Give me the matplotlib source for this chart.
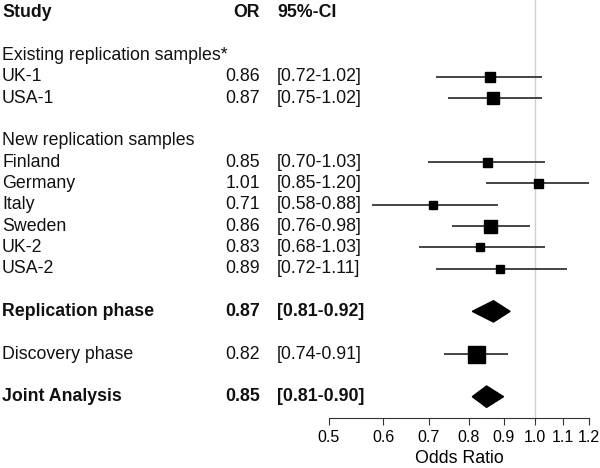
import numpy as np
import matplotlib.pyplot as plt
import matplotlib.transforms as mtransforms

plt.rcParams['font.family'] = ['Liberation Sans', 'DejaVu Sans']

# study-level data
studies = ["UK-1", "USA-1", "Finland", "Germany", "Italy", "Sweden", "UK-2", "USA-2"]
odds = [0.86, 0.87, 0.85, 1.01, 0.71, 0.86, 0.83, 0.89]
ci_lo = [0.72, 0.75, 0.70, 0.85, 0.58, 0.76, 0.68, 0.72]
ci_hi = [1.02, 1.02, 1.03, 1.20, 0.88, 0.98, 1.03, 1.11]
weights = [10, 12, 9, 9, 8, 13, 8, 8]

# pooled results
pooled = ["Replication phase", "Discovery phase", "Joint Analysis"]
pooled_or = [0.87, 0.82, 0.85]
pooled_lo = [0.81, 0.74, 0.81]
pooled_hi = [0.92, 0.91, 0.90]
pooled_kind = ["diamond", "square", "diamond"]
pooled_weight = [0, 17, 0]

groups = ["Existing replication samples*", "New replication samples"]
ticks = [0.5, 0.6, 0.7, 0.8, 0.9, 1.0, 1.1, 1.2]

study_rows = [3, 4, 7, 8, 9, 10, 11, 12]
group_rows = [2, 6]
pooled_rows = [14, 16, 18]

fs = 12.8
fig = plt.figure(figsize=(6, 4.68), dpi=100)
ax = fig.add_axes([329 / 600, 1 - 418 / 468, 260 / 600, 418 / 468])
ax.set_xscale('log')
ax.set_xlim(0.5, 1.2)
ax.set_ylim(19, -0.6)
tr = mtransforms.blended_transform_factory(fig.transFigure, ax.transData)

x_name, x_or, x_ci = 2 / 600, 260 / 600, 277 / 600

ax.axvline(1.0, color='#d0d0d0', lw=1, zorder=0)

# header
fig_txt = dict(transform=tr, va='center', fontsize=fs, color='#111111')
ax.text(x_name, 0, "Study", ha='left', fontweight='bold', **fig_txt)
ax.text(x_or, 0, "OR", ha='right', fontweight='bold', **fig_txt)
ax.text(x_ci, 0, "95%-CI", ha='left', fontweight='bold', **fig_txt)

for g, r in zip(groups, group_rows):
    ax.text(x_name, r, g, ha='left', **fig_txt)

for s, o, lo, hi, w, r in zip(studies, odds, ci_lo, ci_hi, weights, study_rows):
    ax.plot([lo, hi], [r, r], color='#444444', lw=1.4, zorder=2)
    ax.plot(o, r, marker='s', ms=w * 0.72, color='black', mec='black', zorder=3)
    ax.text(x_name, r, s, ha='left', **fig_txt)
    ax.text(x_or, r, f"{o:.2f}", ha='right', **fig_txt)
    ax.text(x_ci, r, f"[{lo:.2f}-{hi:.2f}]", ha='left', **fig_txt)

for s, o, lo, hi, k, w, r in zip(pooled, pooled_or, pooled_lo, pooled_hi,
                                 pooled_kind, pooled_weight, pooled_rows):
    fw = 'bold' if k == 'diamond' else 'normal'
    if k == 'diamond':
        ax.fill([lo, o, hi, o], [r, r - 0.5, r, r + 0.5], color='black', zorder=3)
    else:
        ax.plot([lo, hi], [r, r], color='#444444', lw=1.4, zorder=2)
        ax.plot(o, r, marker='s', ms=w * 0.72, color='black', zorder=3)
    ax.text(x_name, r, s, ha='left', fontweight=fw, **fig_txt)
    ax.text(x_or, r, f"{o:.2f}", ha='right', fontweight=fw, **fig_txt)
    ax.text(x_ci, r, f"[{lo:.2f}-{hi:.2f}]", ha='left', fontweight=fw, **fig_txt)

for sp in ['top', 'right', 'left']:
    ax.spines[sp].set_visible(False)
ax.spines['bottom'].set_color('#333333')
ax.set_yticks([])
ax.set_xticks(ticks)
ax.set_xticklabels([f"{t:.1f}" for t in ticks])
ax.xaxis.set_minor_locator(plt.NullLocator())
ax.tick_params(axis='x', labelsize=11.5, length=5, color='#333333', pad=4)
ax.set_xlabel("Odds Ratio", fontsize=12.8, labelpad=3)

fig.savefig("out.png", dpi=100)
